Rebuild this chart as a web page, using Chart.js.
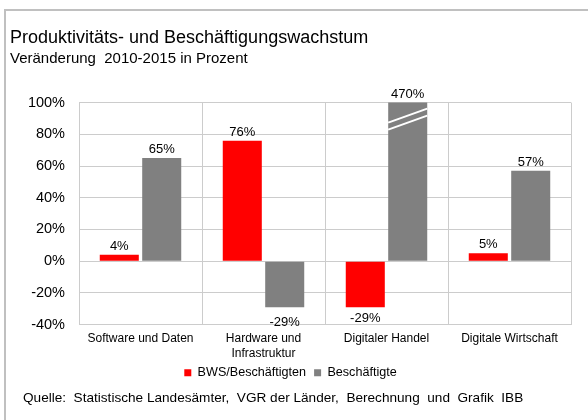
<!DOCTYPE html>
<html>
<head>
<meta charset="utf-8">
<script src="https://cdn.jsdelivr.net/npm/chart.js@4/dist/chart.umd.min.js"></script>
<style>
  html, body { margin: 0; padding: 0; background: #fff; }
  #wrap { position: relative; width: 588px; height: 420px; overflow: hidden; }
  #frame { position: absolute; left: 4px; top: 9px; width: 600px; height: 500px; border-top: 2px solid #c0c0c0; border-left: 2px solid #c0c0c0; box-sizing: border-box; }
  canvas { position: absolute; left: 0; top: 0; }
</style>
</head>
<body>
<div id="wrap">
  <div id="frame"></div>
  <canvas id="c" width="588" height="420"></canvas>
</div>
<script>
const categories = ['Software und Daten', ['Hardware und', 'Infrastruktur'], 'Digitaler Handel', 'Digitale Wirtschaft'];
const seriesNames = ['BWS/Beschäftigten', 'Beschäftigte'];
const bwsValues = [4, 76, -29, 5];
const beschValues = [65, -29, 470, 57];
const yTicks = [-40, -20, 0, 20, 40, 60, 80, 100];
const titleText = 'Produktivitäts- und Beschäftigungswachstum';
const subtitleText = 'Veränderung  2010-2015 in Prozent';
const sourceText = 'Quelle:  Statistische Landesämter,  VGR der Länder,  Berechnung  und  Grafik  IBB';

const FONT = "'Liberation Sans', Arial, sans-serif";

const barLabels = {
  id: 'barLabels',
  afterDatasetsDraw(chart) {
    const ctx = chart.ctx;
    const area = chart.chartArea;
    const yScale = chart.scales.y;
    ctx.save();
    ctx.font = '13px ' + FONT;
    ctx.fillStyle = '#000';
    ctx.textAlign = 'center';
    chart.data.datasets.forEach((ds, di) => {
      const meta = chart.getDatasetMeta(di);
      meta.data.forEach((bar, i) => {
        const v = ds.data[i];
        const txt = v + '%';
        if (v >= 0) {
          if (v > yScale.max) {
            const half = bar.width / 2;
            const x0 = bar.x - half, x1 = bar.x + half;
            ctx.save();
            ctx.strokeStyle = '#fff';
            ctx.lineWidth = 2;
            [0, 7].forEach(off => {
              ctx.beginPath();
              ctx.moveTo(x0, area.top + 20 + off);
              ctx.lineTo(x1, area.top + 6 + off);
              ctx.stroke();
            });
            ctx.restore();
          }
          const top = Math.max(bar.y, area.top);
          ctx.textBaseline = 'bottom';
          ctx.fillText(txt, bar.x, top - 2);
        } else {
          ctx.textBaseline = 'top';
          ctx.fillText(txt, bar.x, bar.y + (di === 1 ? 9 : 5));
        }
      });
    });
    ctx.restore();
  }
};

const sourcePlugin = {
  id: 'sourceText',
  afterDraw(chart) {
    const ctx = chart.ctx;
    ctx.save();
    ctx.font = '13.6px ' + FONT;
    ctx.fillStyle = '#000';
    ctx.textAlign = 'left';
    ctx.textBaseline = 'middle';
    ctx.fillText(sourceText, 23, 398);
    ctx.restore();
  }
};

new Chart(document.getElementById('c'), {
  type: 'bar',
  data: {
    labels: categories,
    datasets: [
      { label: seriesNames[0], data: bwsValues, backgroundColor: '#ff0000', borderWidth: 0 },
      { label: seriesNames[1], data: beschValues, backgroundColor: '#808080', borderWidth: 0 }
    ]
  },
  options: {
    responsive: false,
    animation: false,
    events: [],
    layout: { padding: { left: 10, right: 17, top: 27, bottom: 31 } },
    datasets: { bar: { categoryPercentage: 0.69, barPercentage: 0.92 } },
    scales: {
      x: {
        afterFit(scale) { scale.height -= 9; },
        grid: { offset: true, color: '#cccccc', lineWidth: 1, drawTicks: false },
        border: { color: '#cccccc' },
        ticks: { color: '#000', font: { family: FONT, size: 12 }, padding: 7, maxRotation: 0, autoSkip: false }
      },
      y: {
        min: -40, max: 100,
        afterBuildTicks(scale) { scale.ticks = yTicks.map(v => ({ value: v })); },
        afterFit(scale) { scale.width = 69; },
        grid: { color: '#cccccc', lineWidth: 1, drawTicks: false },
        border: { color: '#cccccc' },
        ticks: { color: '#000', font: { family: FONT, size: 14.5 }, padding: 14, callback: v => v + '%' }
      }
    },
    plugins: {
      title: { display: true, text: titleText, align: 'start', color: '#000', font: { family: FONT, size: 18, weight: 'normal' }, padding: { top: 0, bottom: 1 } },
      subtitle: { display: true, text: subtitleText, align: 'start', color: '#000', font: { family: FONT, size: 15, weight: 'normal' }, padding: { top: 0, bottom: 35 } },
      legend: {
        position: 'bottom',
        labels: { color: '#000', font: { family: FONT, size: 12.6 }, boxWidth: 7, boxHeight: 7, padding: 8 }
      },
      tooltip: { enabled: false }
    }
  },
  plugins: [barLabels, sourcePlugin]
});
</script>
</body>
</html>
